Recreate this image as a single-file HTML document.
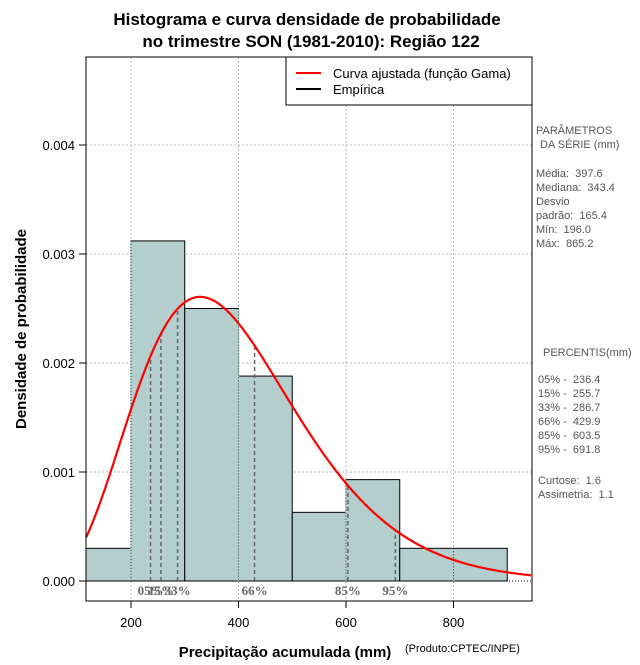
<!DOCTYPE html>
<html><head><meta charset="utf-8"><style>
body{margin:0;background:#fff;}
svg{font-family:"Liberation Sans","DejaVu Sans",sans-serif;}
svg text{white-space:pre;}
</style></head><body>
<svg id="chart" width="640" height="660" viewBox="0 0 640 660" xmlns="http://www.w3.org/2000/svg" xml:space="preserve">
<text x="307" y="25" text-anchor="middle" font-size="17" font-weight="bold">Histograma e curva densidade de probabilidade</text>
<text x="311" y="47" text-anchor="middle" font-size="17" font-weight="bold">no trimestre SON (1981-2010): Região 122</text>
<g id="grid"></g>
<g id="bars"></g>
<g id="pct"></g>
<path id="curve" fill="none" stroke="#ff0000" stroke-width="2.2"/>
<line x1="86" x2="532" y1="581" y2="581" stroke="#000" stroke-dasharray="1,2"/>
<rect x="86" y="57" width="446" height="544" fill="none" stroke="#000"/>
<g id="axes"></g>
<text x="285" y="657" text-anchor="middle" font-size="15" font-weight="bold">Precipitação acumulada (mm)</text>
<text x="405" y="652" font-size="11">(Produto:CPTEC/INPE)</text>
<text transform="translate(26,329) rotate(-90)" text-anchor="middle" font-size="15" font-weight="bold">Densidade de probabilidade</text>
<g>
<rect x="286" y="57" width="246" height="48" fill="#fff" stroke="#000"/>
<line x1="296" x2="321" y1="73" y2="73" stroke="#ff0000" stroke-width="2"/>
<line x1="296" x2="321" y1="89" y2="89" stroke="#000" stroke-width="2"/>
<text x="333" y="78" font-size="13">Curva ajustada (função Gama)</text>
<text x="333" y="94" font-size="13">Empírica</text>
</g>
<g font-size="11" fill="#555">
<text x="536" y="134">PARÂMETROS</text>
<text x="540" y="148">DA SÉRIE (mm)</text>
<text x="536" y="177">Média:  397.6</text>
<text x="536" y="191">Mediana:  343.4</text>
<text x="536" y="205">Desvio</text>
<text x="536" y="219">padrão:  165.4</text>
<text x="536" y="233">Mín:  196.0</text>
<text x="536" y="247">Máx:  865.2</text>
<text x="543" y="356">PERCENTIS(mm)</text>
<text x="538" y="383">05% -  236.4</text>
<text x="538" y="397">15% -  255.7</text>
<text x="538" y="411">33% -  286.7</text>
<text x="538" y="425">66% -  429.9</text>
<text x="538" y="439">85% -  603.5</text>
<text x="538" y="453">95% -  691.8</text>
<text x="538" y="484">Curtose:  1.6</text>
<text x="538" y="498">Assimetria:  1.1</text>
</g>
</svg>
<script>
const binStarts=[100,200,300,400,500,600,700];
const binEnds=[200,300,400,500,600,700,900];
const densities=[0.0003,0.00312,0.0025,0.00188,0.00063,0.00093,0.0003];
const percentileLabels=["05%","15%","33%","66%","85%","95%"];
const percentileValues=[236.4,255.7,286.7,429.9,603.5,691.8];
const xTicks=[200,400,600,800];
const yTicks=[0,0.001,0.002,0.003,0.004];
const yTickLabels=["0.000","0.001","0.002","0.003","0.004"];
const gammaMean=[397.6];
const gammaSd=[165.4];

const NS="http://www.w3.org/2000/svg";
const X0=86,X1=532,Y0=57,Y1=601;
const xmin=116.3,xmax=946;
function sx(v){return 23.5+v*0.5375;}
function sy(v){return 581-v*109000;}
function mk(tag,attrs,parent){const e=document.createElementNS(NS,tag);for(const k in attrs)e.setAttribute(k,attrs[k]);parent.appendChild(e);return e;}
const k=Math.pow(gammaMean[0]/gammaSd[0],2), th=gammaSd[0]*gammaSd[0]/gammaMean[0];
function lgamma(z){const g=7,c=[0.99999999999980993,676.5203681218851,-1259.1392167224028,771.32342877765313,-176.61502916214059,12.507343278686905,-0.13857109526572012,9.9843695780195716e-6,1.5056327351493116e-7];z-=1;let x=c[0];for(let i=1;i<9;i++)x+=c[i]/(z+i);const t=z+g+0.5;return 0.5*Math.log(2*Math.PI)+(z+0.5)*Math.log(t)-t+Math.log(x);}
const lg=lgamma(k);
function pdf(x){return Math.exp((k-1)*Math.log(x)-x/th-lg-k*Math.log(th));}

const grid=document.getElementById('grid');
xTicks.forEach(t=>{const l=mk('line',{x1:sx(t),x2:sx(t),y1:Y0,y2:Y1,stroke:'#bbb','stroke-dasharray':'2,2'},grid);

});
yTicks.forEach(t=>{if(t===0)return;const l=mk('line',{x1:X0,x2:X1,y1:sy(t),y2:sy(t),stroke:'#bbb','stroke-dasharray':'2,2'},grid);

});

const bars=document.getElementById('bars');
densities.forEach((d,i)=>{const a=Math.max(sx(binStarts[i]),X0),b=sx(binEnds[i]);
const r=mk('rect',{x:a,y:sy(d),width:b-a,height:sy(0)-sy(d),fill:'#b4cdcd',stroke:'#000','stroke-width':1},bars);

});
xTicks.forEach(t=>{let h=0;binStarts.forEach((s,i)=>{if(s<=t&&binEnds[i]>=t)h=Math.max(h,densities[i]);});
if(h<=0)return;
mk('line',{x1:sx(t),x2:sx(t),y1:sy(h)+1,y2:581,stroke:'#b4cdcd','stroke-width':1.5},bars);
mk('line',{x1:sx(t),x2:sx(t),y1:sy(h),y2:581,stroke:'#333','stroke-dasharray':'1,2'},bars);});

const pct=document.getElementById('pct');
percentileValues.forEach((v,i)=>{const l=mk('line',{x1:sx(v),x2:sx(v),y1:581,y2:sy(pdf(v)),stroke:'#666','stroke-width':1.5,'stroke-dasharray':'4,3'},pct);


const t=mk('text',{x:sx(v),y:595,'text-anchor':'middle','font-size':13,'font-weight':'bold',fill:'#666','font-family':'"Liberation Serif",serif'},pct);
t.textContent=percentileLabels[i];

});

let d='';for(let v=xmin;v<=xmax;v+=2){d+=(d?'L':'M')+sx(v).toFixed(1)+','+sy(pdf(v)).toFixed(1);}
document.getElementById('curve').setAttribute('d',d);

const axes=document.getElementById('axes');
xTicks.forEach(t=>{mk('line',{x1:sx(t),x2:sx(t),y1:Y1,y2:Y1+7,stroke:'#000'},axes);
const tx=mk('text',{x:sx(t),y:627,'text-anchor':'middle','font-size':13},axes);tx.textContent=t;

});
yTicks.forEach((t,i)=>{mk('line',{x1:X0-7,x2:X0,y1:sy(t),y2:sy(t),stroke:'#000'},axes);
const tx=mk('text',{x:75,y:sy(t)+5,'text-anchor':'end','font-size':13},axes);tx.textContent=yTickLabels[i];

});
</script>
</body></html>
